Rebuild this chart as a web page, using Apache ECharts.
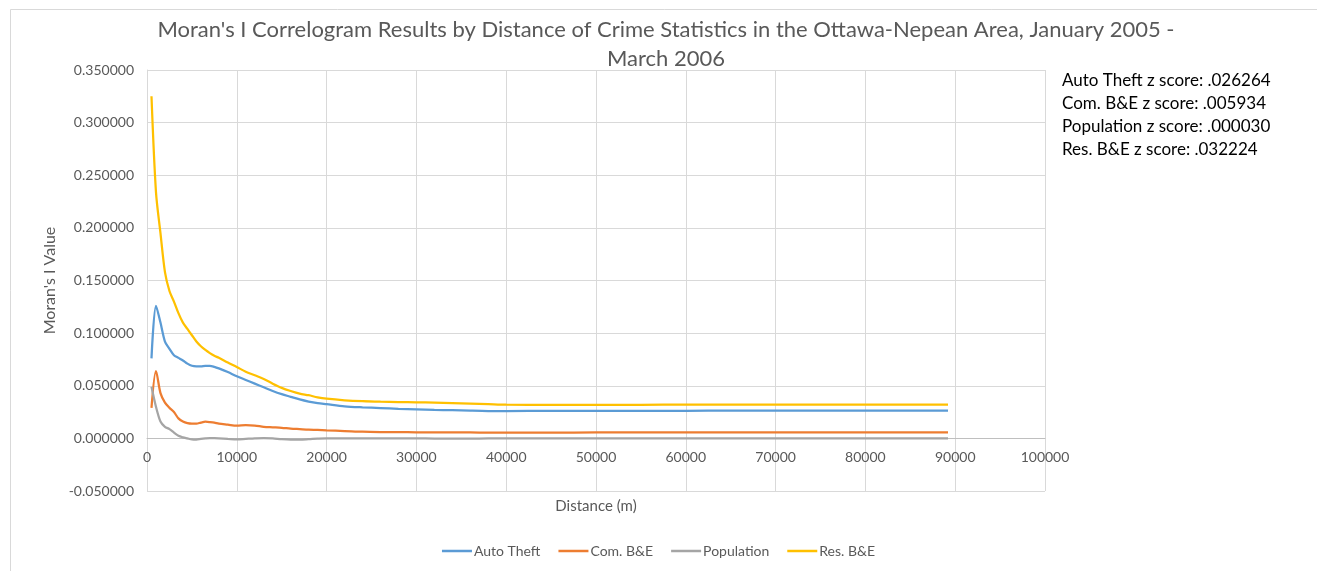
<!DOCTYPE html>
<html>
<head>
<meta charset="utf-8">
<script src="https://cdn.jsdelivr.net/npm/echarts@6/dist/echarts.min.js"></script>
<style>
html,body{margin:0;padding:0;background:#fff;overflow:hidden;}
#c{width:1317px;height:571px;}
</style>
</head>
<body>
<div id="c"></div>
<script>
const distances = [500,1000,1500,2000,2500,3000,3500,4000,4500,5000,5500,6000,6500,7000,7500,8000,9000,10000,11000,12000,13000,14000,15000,16000,17000,18000,19000,20000,22000,24000,26000,28000,30000,32000,34000,36000,38000,40000,45000,50000,55000,60000,65000,70000,75000,80000,85000,89200];

const autoTheft = [0.076,0.126,0.110,0.092,0.085,0.079,0.0765,0.074,0.071,0.069,0.0685,0.0685,0.069,0.069,0.068,0.0665,0.063,0.059,0.0555,0.052,0.0485,0.045,0.042,0.0395,0.037,0.035,0.0335,0.0325,0.0305,0.0295,0.0288,0.028,0.0275,0.027,0.0268,0.0263,0.026,0.026,0.0262,0.0262,0.0262,0.0262,0.0263,0.0263,0.0263,0.0263,0.0263,0.0263];

const comBE = [0.029,0.064,0.043,0.034,0.029,0.025,0.019,0.016,0.0145,0.014,0.014,0.015,0.0158,0.0155,0.015,0.014,0.013,0.012,0.0125,0.0122,0.011,0.0105,0.010,0.0093,0.0088,0.0083,0.008,0.0076,0.007,0.0063,0.006,0.0059,0.0058,0.0057,0.0056,0.0056,0.0055,0.0055,0.0055,0.0056,0.0057,0.0058,0.0058,0.0058,0.0058,0.0058,0.0058,0.0058];

const population = [0.049,0.030,0.016,0.011,0.0088,0.0055,0.0025,0.001,0.0,-0.001,-0.0012,-0.0005,0.0,0.0003,0.0002,0.0,-0.0005,-0.001,-0.0005,0.0,0.0003,0.0,-0.0008,-0.0012,-0.0012,-0.0008,-0.0003,0.0,0.0,0.0,0.0,0.0,0.0,-0.0002,-0.0002,-0.0002,-0.0001,0.0,0.0,0.0,0.0,0.0,0.0,0.0,0.0,0.0,0.0,0.0];

const resBE = [0.325,0.234,0.195,0.158,0.140,0.130,0.119,0.110,0.104,0.098,0.092,0.0875,0.084,0.081,0.0785,0.0765,0.072,0.0678,0.0633,0.060,0.0565,0.052,0.048,0.045,0.0425,0.041,0.039,0.0377,0.0362,0.0353,0.0348,0.0345,0.0343,0.034,0.0335,0.033,0.0325,0.032,0.0318,0.0318,0.0319,0.032,0.032,0.032,0.032,0.032,0.032,0.032];

const seriesNames = ['Auto Theft','Com. B&E','Population','Res. B&E'];
const seriesValues = [autoTheft, comBE, population, resBE];
const seriesColors = ['#5B9BD5','#ED7D31','#A5A5A5','#FFC000'];
const zScoreLines = ['Auto Theft z score: .026264','Com. B&E z score: .005934','Population z score: .000030','Res. B&E z score: .032224'];
const titleLines = ["Moran's I Correlogram Results by Distance of Crime Statistics in the Ottawa-Nepean Area, January 2005 -", "March 2006"];

const FONT = 'Lato, "Open Sans", sans-serif';
const chart = echarts.init(document.getElementById('c'), null, {renderer:'canvas', width:1317, height:571});

chart.setOption({
  backgroundColor:'#fff',
  animation:false,
  graphic:[
    {type:'rect',shape:{x:10.5,y:9.5,width:1400,height:700},style:{fill:'none',stroke:'#d9d9d9',lineWidth:1},silent:true,z:-10},
    {type:'text',x:666,y:30,style:{text:titleLines[0],font:'22px '+FONT,fill:'#595959',align:'center',verticalAlign:'middle'}},
    {type:'text',x:666,y:59,style:{text:titleLines[1],font:'22px '+FONT,fill:'#595959',align:'center',verticalAlign:'middle'}},
    {type:'text',x:1062,y:69.5,style:{text:zScoreLines.join('\n'),font:'17px '+FONT,fill:'#000',lineHeight:23,verticalAlign:'top'}}
  ],
  legend:{
    top:539,
    left:'center',
    icon:'rect',
    itemWidth:30,
    itemHeight:2.5,
    itemGap:18,
    textStyle:{fontFamily:FONT,fontSize:14,color:'#595959',padding:[0,0,0,-3]},
    data:seriesNames
  },
  grid:{left:147,width:898,top:70,height:421,containLabel:false},
  xAxis:{
    type:'value',min:0,max:100000,interval:10000,
    name:'Distance (m)',nameLocation:'middle',nameGap:8,
    nameTextStyle:{fontFamily:FONT,fontSize:15,color:'#595959',verticalAlign:'top'},
    axisLine:{onZero:true,lineStyle:{color:'#bfbfbf',width:1}},
    axisTick:{show:false},
    axisLabel:{fontFamily:FONT,fontSize:14,color:'#595959',margin:-41,formatter:v=>String(v)},
    splitLine:{show:true,lineStyle:{color:'#d9d9d9',width:1}}
  },
  yAxis:{
    type:'value',min:-0.05,max:0.35,interval:0.05,
    name:"Moran's I Value",nameLocation:'middle',nameGap:69,nameRotate:90,
    nameTextStyle:{fontFamily:FONT,fontSize:16,color:'#595959'},
    axisLine:{show:true,lineStyle:{color:'#d9d9d9',width:1}},
    axisTick:{show:false},
    axisLabel:{fontFamily:FONT,fontSize:14,color:'#595959',margin:13,formatter:v=>v.toFixed(6)},
    splitLine:{show:true,lineStyle:{color:'#d9d9d9',width:1}}
  },
  series: seriesNames.map((n,i)=>({
    name:n,type:'line',symbol:'none',smooth:0.3,
    data:distances.map((d,j)=>[d,seriesValues[i][j]]),
    lineStyle:{color:seriesColors[i],width:2.25},
    itemStyle:{color:seriesColors[i]}
  }))
});
</script>
</body>
</html>
